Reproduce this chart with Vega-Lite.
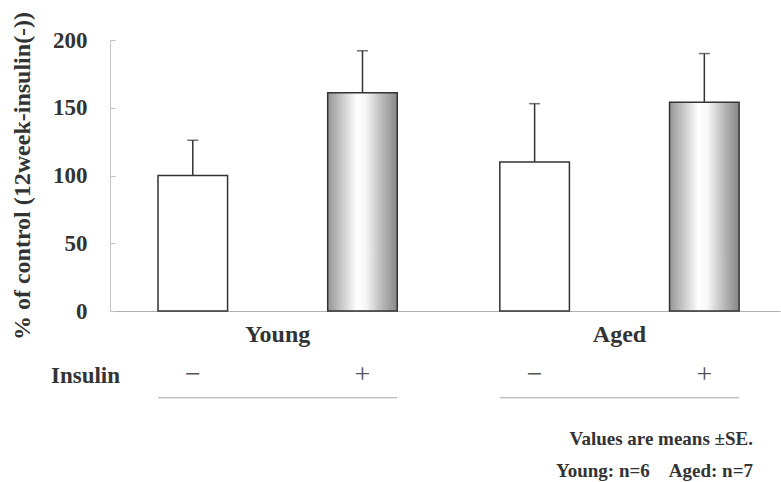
{
  "$schema": "https://vega.github.io/schema/vega-lite/v6.json",
  "width": 670,
  "height": 271,
  "autosize": "none",
  "padding": {"left": 110, "top": 40, "right": 1, "bottom": 171},
  "background": "white",
  "config": {
    "view": {"stroke": null},
    "font": "Liberation Serif"
  },
  "title": {
    "text": "Values are means ±SE.",
    "subtitle": "Young: n=6\u00a0\u00a0\u00a0\u00a0Aged: n=7",
    "orient": "bottom",
    "anchor": "end",
    "dx": -27,
    "offset": 32,
    "font": "Liberation Serif",
    "fontSize": 19,
    "fontWeight": "bold",
    "color": "#333333",
    "subtitleFont": "Liberation Serif",
    "subtitleFontSize": 19,
    "subtitleFontWeight": "bold",
    "subtitleColor": "#333333",
    "subtitlePadding": 13
  },
  "datasets": {
    "bars": [
      {"group": "Young", "insulin": "−", "mean": 100, "upper": 126},
      {"group": "Young", "insulin": "+", "mean": 161, "upper": 192},
      {"group": "Aged", "insulin": "−", "mean": 110, "upper": 153},
      {"group": "Aged", "insulin": "+", "mean": 154, "upper": 190}
    ],
    "groups": [
      {"group": "Young"},
      {"group": "Aged"}
    ]
  },
  "data": {"name": "bars"},
  "layer": [
    {
      "transform": [{"filter": "datum.insulin === '−'"}],
      "mark": {"type": "bar", "fill": "white", "stroke": "#333333", "strokeWidth": 1.5},
      "encoding": {
        "x": {
          "field": "group",
          "type": "nominal",
          "sort": ["Young", "Aged"],
          "scale": {"paddingInner": 0.3, "paddingOuter": 0.13, "align": 0.54},
          "axis": {
            "title": "Insulin",
            "titleFont": "Liberation Serif",
            "titleFontSize": 23,
            "titleFontWeight": "bold",
            "titleColor": "#333333",
            "titleX": -25,
            "titleY": 64,
            "titleAlign": "center",
            "titleBaseline": "middle",
            "labelFont": "Liberation Serif",
            "labelFontSize": 24,
            "labelFontWeight": "bold",
            "labelColor": "#333333",
            "labelAngle": 0,
            "labelPadding": 11,
            "ticks": false,
            "domainColor": "#b0b0b0",
            "domainWidth": 1
          }
        },
        "xOffset": {
          "field": "insulin",
          "type": "nominal",
          "sort": ["−", "+"],
          "scale": {"paddingInner": 0.59, "paddingOuter": 0}
        },
        "y": {
          "field": "mean",
          "type": "quantitative",
          "scale": {"domain": [0, 200]},
          "axis": {
            "title": "% of control (12week-insulin(-))",
            "titleFont": "Liberation Serif",
            "titleFontSize": 24,
            "titleFontWeight": "bold",
            "titleColor": "#333333",
            "titlePadding": 18,
            "values": [0, 50, 100, 150, 200],
            "labelFont": "Liberation Serif",
            "labelFontSize": 23,
            "labelFontWeight": "bold",
            "labelColor": "#333333",
            "labelPadding": 28,
            "tickSize": -5,
            "tickColor": "#c0c0c0",
            "domainColor": "#c8c8c8",
            "grid": false
          }
        }
      }
    },
    {
      "transform": [{"filter": "datum.insulin === '+'"}],
      "mark": {
        "type": "bar",
        "stroke": "#333333",
        "strokeWidth": 1.5,
        "fill": {
          "gradient": "linear",
          "x1": 0, "y1": 0, "x2": 1, "y2": 0,
          "stops": [
            {"offset": 0, "color": "#959595"},
            {"offset": 0.2, "color": "#c8c8c8"},
            {"offset": 0.42, "color": "#ffffff"},
            {"offset": 0.55, "color": "#f6f6f6"},
            {"offset": 0.8, "color": "#b4b4b4"},
            {"offset": 1, "color": "#888888"}
          ]
        }
      },
      "encoding": {
        "x": {"field": "group", "type": "nominal", "sort": ["Young", "Aged"]},
        "xOffset": {"field": "insulin", "type": "nominal", "sort": ["−", "+"]},
        "y": {"field": "mean", "type": "quantitative"}
      }
    },
    {
      "mark": {"type": "rule", "color": "#333333", "strokeWidth": 1.5},
      "encoding": {
        "x": {"field": "group", "type": "nominal", "sort": ["Young", "Aged"]},
        "xOffset": {"field": "insulin", "type": "nominal", "sort": ["−", "+"]},
        "y": {"field": "mean", "type": "quantitative"},
        "y2": {"field": "upper"}
      }
    },
    {
      "mark": {"type": "tick", "color": "#333333", "size": 11, "thickness": 1.5, "orient": "horizontal"},
      "encoding": {
        "x": {"field": "group", "type": "nominal", "sort": ["Young", "Aged"]},
        "xOffset": {"field": "insulin", "type": "nominal", "sort": ["−", "+"]},
        "y": {"field": "upper", "type": "quantitative"}
      }
    },
    {
      "mark": {"type": "text", "fontSize": 28, "font": "Liberation Serif", "color": "#555555", "baseline": "middle"},
      "encoding": {
        "x": {"field": "group", "type": "nominal", "sort": ["Young", "Aged"]},
        "xOffset": {"field": "insulin", "type": "nominal", "sort": ["−", "+"]},
        "y": {"datum": -47, "type": "quantitative"},
        "text": {"field": "insulin"}
      }
    },
    {
      "data": {"name": "groups"},
      "mark": {"type": "rect", "color": "#a8a8a8"},
      "encoding": {
        "x": {"field": "group", "type": "nominal", "sort": ["Young", "Aged"]},
        "y": {"datum": -63.6, "type": "quantitative"},
        "y2": {"datum": -64.4}
      }
    }
  ]
}
